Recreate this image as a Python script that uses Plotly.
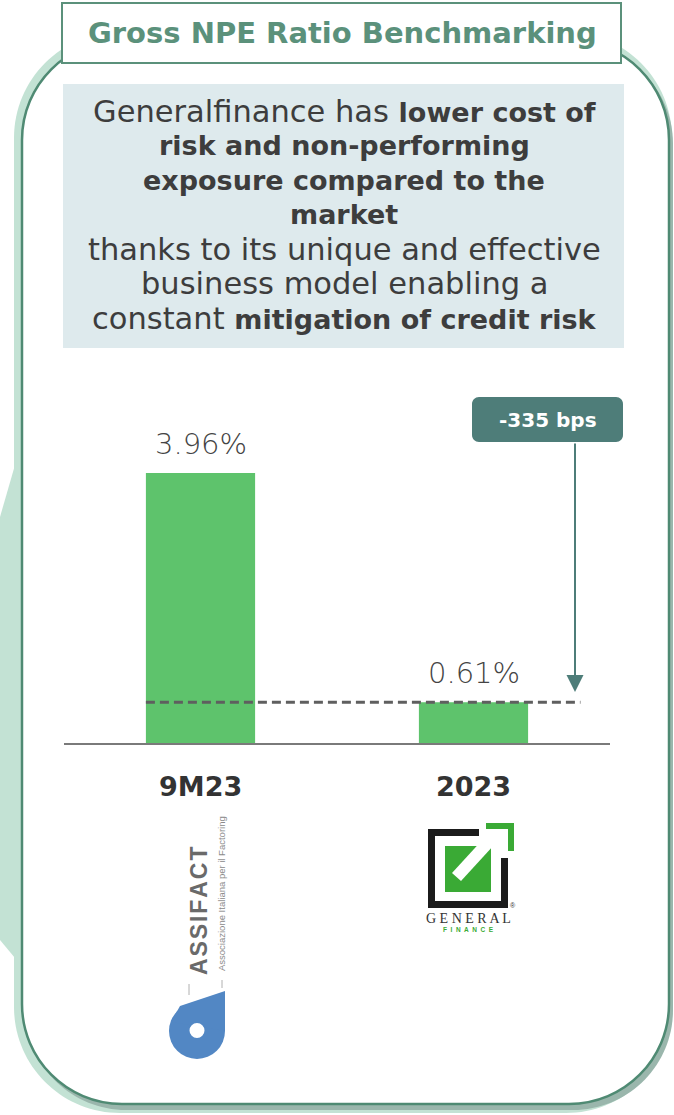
import plotly.graph_objects as go

# ---------------- data ----------------
categories = ["9M23", "2023"]
values = [3.96, 0.61]
value_labels = ["3.96%", "0.61%"]
delta_label = "-335 bps"
title_text = "Gross NPE Ratio Benchmarking"
# (text, bold) segments per line
message_lines = [
    [("Generalfinance has ", False), ("lower cost of", True)],
    [("risk and non-performing", True)],
    [("exposure compared to the", True)],
    [("market", True)],
    [("thanks to its unique and effective", False)],
    [("business model enabling a", False)],
    [("constant ", False), ("mitigation of credit risk", True)],
]

# ---------------- style ----------------
W, H = 674, 1115
BAR_GREEN = "#5ec36c"
MINT = "#c3e2d4"
CARD_LINE = "#4f8a73"
TITLE_GREEN = "#5b917b"
BOX_BLUE = "#deeaed"
BADGE = "#4e7d79"
TEXT = "#3d3d3d"
FONT = "DejaVu Sans"
REG_SIZE, BOLD_SIZE = 30.5, 27

# pixel geometry of the data area (category 0 centre, px per category, baseline, px per %)
CAT0_PX, CAT_STEP = 200.5, 273.0
BASE_PX, PX_PER_UNIT = 744.0, 68.43


def rrect(x0, y0, x1, y1, r):
    k = 0.5523 * r
    return (
        f"M{x0 + r},{y0} L{x1 - r},{y0} C{x1 - r + k},{y0} {x1},{y0 + r - k} {x1},{y0 + r} "
        f"L{x1},{y1 - r} C{x1},{y1 - r + k} {x1 - r + k},{y1} {x1 - r},{y1} "
        f"L{x0 + r},{y1} C{x0 + r - k},{y1} {x0},{y1 - r + k} {x0},{y1 - r} "
        f"L{x0},{y0 + r} C{x0},{y0 + r - k} {x0 + r - k},{y0} {x0 + r},{y0} Z"
    )


def fmt_line(segs):
    out = []
    for t, b in segs:
        if b:
            out.append(f'<span style="font-size:{BOLD_SIZE}px"><b>{t}</b></span>')
        else:
            out.append(t)
    return "".join(out)


fig = go.Figure()

# invisible trace to anchor the page (pixel) axes
fig.add_trace(go.Scatter(x=[0], y=[0], mode="markers", marker=dict(opacity=0),
                         hoverinfo="skip", showlegend=False, xaxis="x", yaxis="y"))

fig.add_trace(go.Bar(
    x=categories, y=values, width=0.4, marker=dict(color=BAR_GREEN, line=dict(width=0)),
    xaxis="x2", yaxis="y2", showlegend=False, hoverinfo="skip",
))

shapes = []
P = dict(xref="x", yref="y", layer="below")
# background mint decorations
shapes.append(dict(type="path", path="M15,465 L0,517 L0,940 L15,958 Z",
                   fillcolor=MINT, line=dict(width=0), **P))
shapes.append(dict(type="path", path=rrect(14, 32, 672, 1113, 106),
                   fillcolor=MINT, line=dict(width=0), **P))
shapes.append(dict(type="path", path=rrect(26, 44, 673, 1110, 100),
                   fillcolor="#9ab6ac", line=dict(width=0), **P))
# white card
shapes.append(dict(type="path", path=rrect(22, 40, 669, 1104, 100),
                   fillcolor="white", line=dict(color=CARD_LINE, width=2.5), **P))
# title box
shapes.append(dict(type="rect", x0=62, y0=3, x1=621, y1=63,
                   fillcolor="white", line=dict(color=TITLE_GREEN, width=2), **P))
# message box
shapes.append(dict(type="rect", x0=63, y0=84, x1=624, y1=348,
                   fillcolor=BOX_BLUE, line=dict(width=0), **P))
# badge
shapes.append(dict(type="path", path=rrect(472, 397, 623, 442, 7),
                   fillcolor=BADGE, line=dict(width=0), **P))

# ASSIFACT logo
ASSI_BLUE = "#5287c4"
shapes.append(dict(type="circle", x0=169, y0=1003, x1=225, y1=1059,
                   fillcolor=ASSI_BLUE, line=dict(width=0), **P))
shapes.append(dict(type="path", path="M225,991 L225,1031 L171,1022 L180,1006 Z",
                   fillcolor=ASSI_BLUE, line=dict(width=0), **P))
shapes.append(dict(type="circle", x0=189.5, y0=1023, x1=204.5, y1=1038,
                   fillcolor="white", line=dict(width=0), **P))
shapes.append(dict(type="line", x0=189, y0=984, x1=189, y1=995,
                   line=dict(color="#b0b0b0", width=1), **P))
shapes.append(dict(type="line", x0=222, y0=980, x1=222, y1=988,
                   line=dict(color="#b0b0b0", width=1), **P))

# Generalfinance logo
GF_GREEN = "#3aaa35"
GF_BLACK = "#1b1b1b"
for (x0, y0, x1, y1) in [(428, 829, 479, 836), (428, 829, 435, 908),
                         (428, 901, 508, 908), (501, 858, 508, 908)]:
    shapes.append(dict(type="rect", x0=x0, y0=y0, x1=x1, y1=y1,
                       fillcolor=GF_BLACK, line=dict(width=0), **P))
for (x0, y0, x1, y1) in [(486, 823, 514, 829), (508, 823, 514, 851), (445, 846, 491, 892)]:
    shapes.append(dict(type="rect", x0=x0, y0=y0, x1=x1, y1=y1,
                       fillcolor=GF_GREEN, line=dict(width=0), **P))
shapes.append(dict(type="path", path="M452,873 L461,881 L494,845 L485,837 Z",
                   fillcolor="white", line=dict(width=0), **P))

# data-area shapes (x2/y2)
D = dict(xref="x2", yref="y2")
arrow_x = (575 - CAT0_PX) / CAT_STEP
shapes.append(dict(type="line", x0=-0.5, x1=1.5, y0=0, y1=0,
                   line=dict(color="#7a7a7a", width=2), layer="above", **D))
shapes.append(dict(type="line", x0=-0.2, x1=arrow_x + 0.02, y0=values[1], y1=values[1],
                   line=dict(color="#5f5f5f", width=3, dash="9px,5px"), layer="above", **D))

fig.update_layout(shapes=shapes)

ann = []
# title
ann.append(dict(x=342, y=33, xref="x", yref="y", text=f"<b>{title_text}</b>", showarrow=False,
                font=dict(family=FONT, size=29, color=TITLE_GREEN), xanchor="center", yanchor="middle"))
# message lines
for i, segs in enumerate(message_lines):
    ann.append(dict(x=344, y=111 + i * 34.5, xref="x", yref="y", text=fmt_line(segs), showarrow=False,
                    font=dict(family=FONT, size=REG_SIZE, color=TEXT), xanchor="center", yanchor="middle"))
# value labels
for i, (v, t) in enumerate(zip(values, value_labels)):
    ann.append(dict(x=i, y=v, xref="x2", yref="y2", text=t, showarrow=False, yanchor="bottom",
                    yshift=10, font=dict(family=FONT, size=29, color="#444444", weight=300)))
# category labels
for i, c in enumerate(categories):
    ann.append(dict(x=i, y=0, xref="x2", yref="y2", text=f"<b>{c}</b>", showarrow=False,
                    yanchor="top", yshift=-25, font=dict(family=FONT, size=27, color="#333333")))
# delta badge text + arrow
ann.append(dict(x=548, y=420, xref="x", yref="y", text=f"<b>{delta_label}</b>", showarrow=False,
                font=dict(family=FONT, size=20, color="white"), xanchor="center", yanchor="middle"))
ann.append(dict(x=arrow_x, y=values[1] + 0.15, xref="x2", yref="y2", text="",
                ax=arrow_x, ay=(BASE_PX - 442) / PX_PER_UNIT, axref="x2", ayref="y2",
                showarrow=True, arrowhead=2, arrowsize=1.7, arrowwidth=2, arrowcolor=BADGE))
# logo texts
HS = "\u200a"
ann.append(dict(x=199, y=911, xref="x", yref="y", text="<b>" + HS.join("ASSIFACT") + "</b>",
                showarrow=False, textangle=-90,
                font=dict(family="Liberation Sans", size=23, color="#6a6a6a")))
ann.append(dict(x=221, y=894, xref="x", yref="y", text="Associazione Italiana per il Factoring",
                showarrow=False, textangle=-90,
                font=dict(family="Liberation Sans", size=9.5, color="#8a8a8a")))
ann.append(dict(x=468, y=918, xref="x", yref="y", text="G E N E R A L", showarrow=False,
                font=dict(family="Liberation Serif", size=14, color="#333333")))
ann.append(dict(x=468, y=929, xref="x", yref="y", text="<b>F  I  N  A  N  C  E</b>", showarrow=False,
                font=dict(family="Liberation Sans", size=6.5, color=GF_GREEN)))
ann.append(dict(x=513, y=905, xref="x", yref="y", text="®", showarrow=False,
                font=dict(family="Liberation Sans", size=7, color="#333333")))

fig.update_layout(annotations=ann)

fig.update_layout(
    width=W, height=H, margin=dict(l=0, r=0, t=0, b=0),
    paper_bgcolor="white", plot_bgcolor="rgba(0,0,0,0)",
    xaxis=dict(range=[0, W], visible=False, domain=[0, 1], fixedrange=True),
    yaxis=dict(range=[H, 0], visible=False, domain=[0, 1], fixedrange=True),
    xaxis2=dict(type="category", categoryarray=categories, overlaying="x", anchor="y2",
                range=[-CAT0_PX / CAT_STEP, (W - CAT0_PX) / CAT_STEP], visible=False, fixedrange=True),
    yaxis2=dict(overlaying="y", anchor="x2",
                range=[(BASE_PX - H) / PX_PER_UNIT, BASE_PX / PX_PER_UNIT], visible=False, fixedrange=True),
    showlegend=False,
)

fig.write_html("out.html", config={"displayModeBar": False})
